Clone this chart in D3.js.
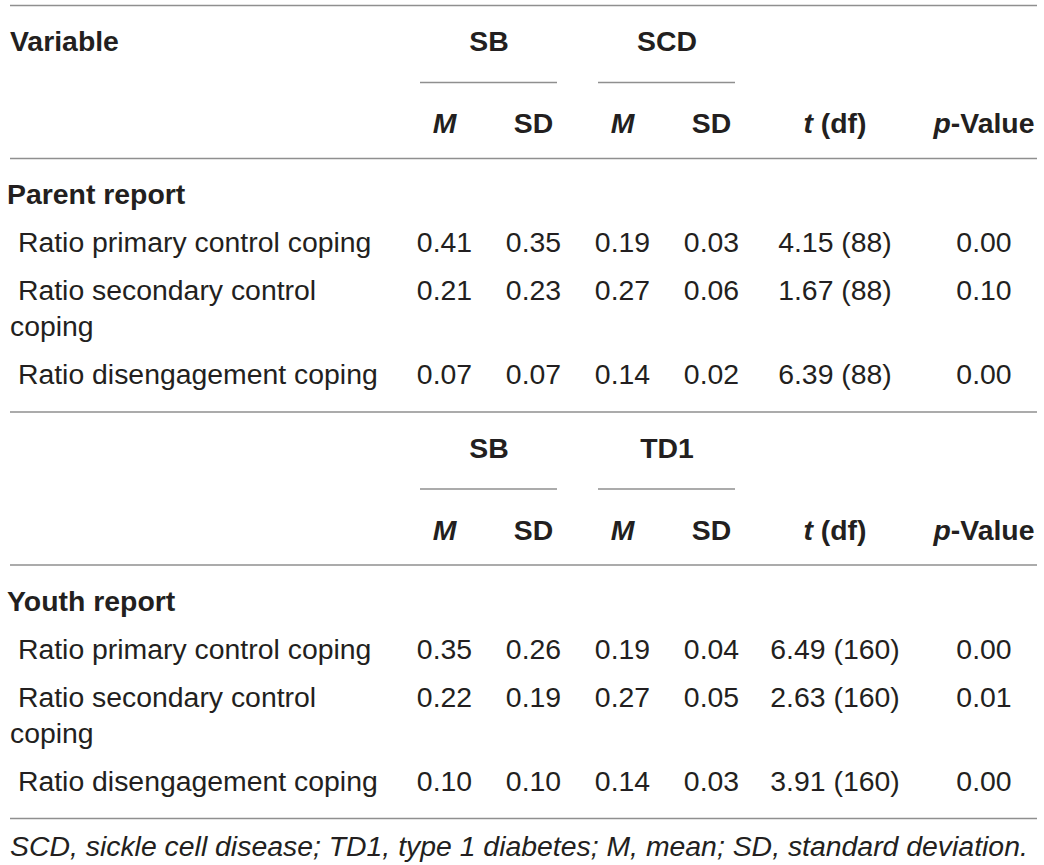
<!DOCTYPE html>
<meta charset="utf-8">
<style>
    body {
        margin: 0;
        background-color: #ffffff;
    }

    text {
        font-family: "Liberation Sans", Arial, Helvetica, sans-serif;
        font-size: 28.4px;
        fill: #231f20;
        white-space: pre;
    }

    .bold {
        font-weight: bold;
    }

    .rule {
        stroke: #8f8f8f;
        stroke-width: 1.5px;
    }
</style>

<body>
    <script src="https://d3js.org/d3.v7.min.js"></script>

    <script>
        var width = 1044,
            height = 865;

        // table content
        const rowLabels = [" Ratio primary control coping", " Ratio secondary control coping", " Ratio disengagement coping"]
        const sections = ["Parent report", "Youth report"]
        const groupA = ["SB", "SCD"]
        const groupB = ["SB", "TD1"]
        const colKeys = ["m1", "sd1", "m2", "sd2", "t", "p"]
        const colHeadMain = ["M", "SD", "M", "SD", "t", "p"]
        const colHeadRest = ["", "", "", "", " (df)", "-Value"]
        const colHeadItalic = [true, false, true, false, true, true]

        // parent report: SB vs SCD
        const parentMeanSB = [0.41, 0.21, 0.07]
        const parentSdSB = [0.35, 0.23, 0.07]
        const parentMeanSCD = [0.19, 0.27, 0.14]
        const parentSdSCD = [0.03, 0.06, 0.02]
        const parentT = [4.15, 1.67, 6.39]
        const parentDf = [88, 88, 88]
        const parentP = [0.00, 0.10, 0.00]

        // youth report: SB vs TD1
        const youthMeanSB = [0.35, 0.22, 0.10]
        const youthSdSB = [0.26, 0.19, 0.10]
        const youthMeanTD1 = [0.19, 0.27, 0.14]
        const youthSdTD1 = [0.04, 0.05, 0.03]
        const youthT = [6.49, 2.63, 3.91]
        const youthDf = [160, 160, 160]
        const youthP = [0.00, 0.01, 0.00]

        const footnote = "SCD, sickle cell disease; TD1, type 1 diabetes; M, mean; SD, standard deviation."

        const blocks = [
            { groups: groupA, section: sections[0], m1: parentMeanSB, sd1: parentSdSB, m2: parentMeanSCD, sd2: parentSdSCD, t: parentT, df: parentDf, p: parentP },
            { groups: groupB, section: sections[1], m1: youthMeanSB, sd1: youthSdSB, m2: youthMeanTD1, sd2: youthSdTD1, t: youthT, df: youthDf, p: youthP }
        ]

        var left = 10,
            right = 1037,
            labelWidth = 380,
            lineHeight = 36,
            rowPad = 12;

        // stat columns share one band scale, the last two are wider
        const statBand = d3.scaleBand()
            .domain(colKeys.slice(0, 4))
            .range([400, 756]);

        const colX = d3.scaleOrdinal()
            .domain(colKeys)
            .range(colKeys.slice(0, 4).map(k => statBand(k) + statBand.bandwidth() / 2).concat([835, 984]));

        const fmt = d3.format(".2f");

        var svg = d3.select("body").append("svg")
            .attr("width", width)
            .attr("height", height);

        function hline(y, x1, x2) {
            svg.append("line")
                .attr("class", "rule")
                .attr("x1", x1)
                .attr("x2", x2)
                .attr("y1", y)
                .attr("y2", y);
        }

        // break a label into lines that fit the first column
        function wrapLines(label) {
            var probe = svg.append("text").attr("xml:space", "preserve");
            var words = label.replace(/^ /, "").split(" ");
            var lines = [],
                current = " ";
            words.forEach(function (w) {
                var test;
                if (lines.length == 0 && current == " ") test = " " + w;
                else if (current == "") test = w;
                else test = current + " " + w;
                probe.text(test);
                if (probe.node().getComputedTextLength() > labelWidth && current.trim() != "") {
                    lines.push(current);
                    current = w;
                } else {
                    current = test;
                }
            });
            lines.push(current);
            probe.remove();
            return lines;
        }

        var y0 = 5.5;
        hline(y0, left, right);

        blocks.forEach(function (b) {
            var g = svg.append("g");

            // group headers with their underlines
            [["m1", "sd1"], ["m2", "sd2"]].forEach(function (pair, i) {
                var x1 = statBand(pair[0]),
                    x2 = statBand(pair[1]) + statBand.bandwidth();
                g.append("text")
                    .attr("class", "bold")
                    .attr("x", (x1 + x2) / 2)
                    .attr("y", y0 + 45.5)
                    .attr("text-anchor", "middle")
                    .text(b.groups[i]);
                hline(y0 + 77, x1 + 20, x2 - 21);
            });

            if (b === blocks[0]) {
                g.append("text")
                    .attr("class", "bold")
                    .attr("x", left)
                    .attr("y", y0 + 45.5)
                    .text("Variable");
            }

            // column headers
            colKeys.forEach(function (k, i) {
                var t = g.append("text")
                    .attr("class", "bold")
                    .attr("x", colX(k))
                    .attr("y", y0 + 127.5)
                    .attr("text-anchor", "middle")
                    .attr("xml:space", "preserve");
                t.append("tspan")
                    .attr("font-style", colHeadItalic[i] ? "italic" : "normal")
                    .text(colHeadMain[i]);
                if (colHeadRest[i]) t.append("tspan").text(colHeadRest[i]);
            });

            var rule = y0 + 153;
            hline(rule, left, right);

            g.append("text")
                .attr("class", "bold")
                .attr("x", left - 3)
                .attr("y", rule + 45.5)
                .text(b.section);

            // data rows
            var y = rule + 93.5,
                last = y;
            rowLabels.forEach(function (label, r) {
                var lines = wrapLines(label);
                var lt = g.append("text")
                    .attr("x", left)
                    .attr("y", y)
                    .attr("xml:space", "preserve");
                lines.forEach(function (ln, j) {
                    lt.append("tspan")
                        .attr("x", left)
                        .attr("dy", j == 0 ? 0 : lineHeight)
                        .text(ln);
                });

                var cells = [fmt(b.m1[r]), fmt(b.sd1[r]), fmt(b.m2[r]), fmt(b.sd2[r]),
                fmt(b.t[r]) + " (" + b.df[r] + ")", fmt(b.p[r])];

                g.selectAll(null)
                    .data(colKeys)
                    .enter().append("text")
                    .attr("x", d => colX(d))
                    .attr("y", y)
                    .attr("text-anchor", "middle")
                    .text((d, i) => cells[i]);

                last = y;
                y += lines.length * lineHeight + rowPad;
            });

            y0 = last + 28;
            hline(y0, left, right);
        });

        svg.append("text")
            .attr("x", left)
            .attr("y", y0 + 37)
            .attr("font-style", "italic")
            .text(footnote);

    </script>
</body>

</html>
